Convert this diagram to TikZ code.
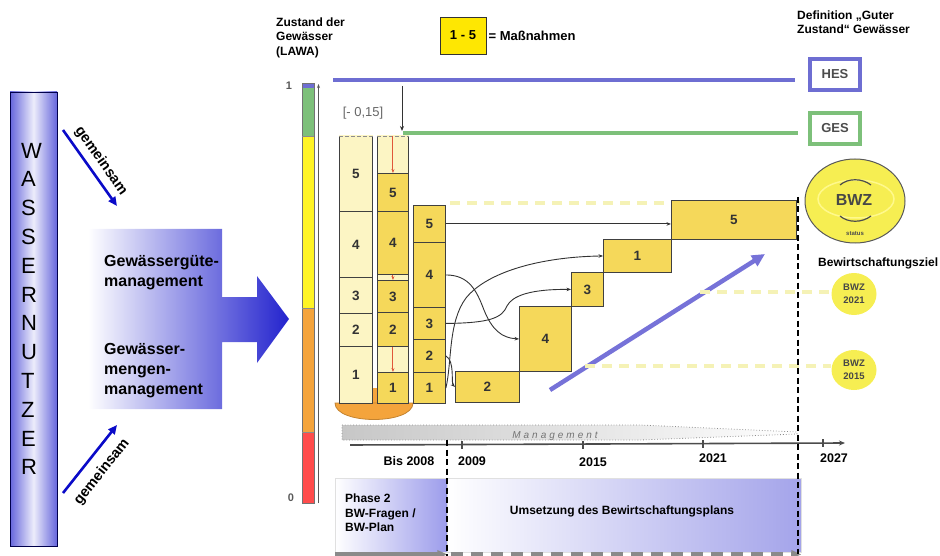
\documentclass[tikz,border=0pt]{standalone}
\usepackage{fontspec}
\setmainfont{Liberation Sans}
\usetikzlibrary{arrows.meta,shapes.geometric}
\newcommand\myfs[2]{\fontsize{#1}{#2}\selectfont}
\definecolor{ydark}{HTML}{F5D85A}
\definecolor{ypale}{HTML}{FCF5C4}
\definecolor{txt}{HTML}{333333}
\definecolor{hescol}{HTML}{6E6ED2}
\definecolor{gescol}{HTML}{7DC07A}
\definecolor{wblue}{HTML}{6666DC}
\definecolor{darrow}{HTML}{0A0AC8}
\definecolor{purp}{HTML}{7672D8}
\definecolor{ydash}{HTML}{F5F2B6}
\definecolor{bwz}{HTML}{F6EE52}
\definecolor{oran}{HTML}{F4A43C}
\definecolor{redar}{HTML}{E0563A}
\definecolor{lav}{HTML}{A4A4EA}
\definecolor{grayar}{HTML}{8A8A8A}
\tikzset{
  lbl/.style={font=\bfseries\myfs{12}{14.5}, text=black, inner sep=0pt},
  num/.style={font=\bfseries\myfs{13.5}{15}, text=txt},
  blkdark/.style={draw=black!75, line width=0.9pt, fill=ydark, inner sep=0pt, anchor=north west, num},
  blkpale/.style={draw=black!75, line width=0.9pt, fill=ypale, inner sep=0pt, anchor=north west, num},
  conn/.style={draw=black!80, line width=0.9pt, -{Stealth[length=4.5pt,width=3.5pt]}},
  redarrow/.style={draw=redar, line width=1pt, -{Stealth[length=4pt,width=3pt]}},
  ydashed/.style={draw=ydash, line width=3.5pt, dash pattern=on 10pt off 7pt},
  vdash/.style={draw=black, line width=1.3pt, dash pattern=on 6pt off 3.5pt},
  gemarrow/.style={draw=darrow, line width=2.6pt, -{Triangle[length=9pt,width=8pt]}},
  gemtext/.style={font=\bfseries\myfs{14.5}{16}, inner sep=0pt},
  yearlbl/.style={font=\bfseries\myfs{12.5}{14}, text=black, inner sep=0pt},
}
\begin{document}
\begin{tikzpicture}[x=1pt,y=-1pt]
\useasboundingbox (0,0) rectangle (940,556);

% ---------- WASSERNUTZER ----------
\node[draw=black!70!blue, line width=0.8pt, left color=wblue, right color=wblue, middle color=white!88!wblue,
      minimum width=47pt, minimum height=454pt, inner sep=0pt] (wn) at (33.5,319) {};
\node[anchor=west, align=left, inner sep=0pt, font=\myfs{22}{28.8}] (wntext) at (21,309)
  {W\\A\\S\\S\\E\\R\\N\\U\\T\\Z\\E\\R};

% gemeinsam arrows
\coordinate (g1s) at (63,130);
\coordinate (g1e) at (117,206);
\draw[gemarrow] (g1s) -- (g1e);
\node[gemtext, rotate=-54.6] (gem1) at (101,161) {gemeinsam};
\coordinate (g2s) at (63,493);
\coordinate (g2e) at (117,425);
\draw[gemarrow] (g2s) -- (g2e);
\node[gemtext, rotate=51.5] (gem2) at (102,472) {gemeinsam};

% ---------- big gradient arrow ----------
\path[left color=white, middle color=white!80!blue, right color=darrow!90!white]
  (88,229) -- (222,229) -- (222,297) -- (257,297) -- (257,276) -- (289,319)
  -- (257,363) -- (257,342) -- (222,342) -- (222,409) -- (88,409) -- cycle;
\node[lbl, font=\bfseries\myfs{16}{20}, anchor=west, align=left] (gm1) at (104,273)
  {Gewässergüte-\\management};
\node[lbl, font=\bfseries\myfs{16}{20}, anchor=west, align=left] (gm2) at (104,371)
  {Gewässer-\\mengen-\\management};

% ---------- LAWA scale ----------
\node[lbl, anchor=west, align=left, font=\bfseries\myfs{12}{14.5}] (lawa) at (276,37.5)
  {Zustand der\\Gewässer\\(LAWA)};
\fill[hescol] (302,83) rectangle (314,88);
\fill[gescol] (302,88) rectangle (314,136);
\fill[yellow!85!white] (302,136) rectangle (314,308);
\fill[oran] (302,308) rectangle (314,432);
\fill[red!70!white] (302,432) rectangle (314,503);
\draw[black!55, line width=0.6pt] (302,83) rectangle (314,503);
\draw[black!45, line width=0.4pt] (302,136) -- (314,136) (302,308) -- (314,308) (302,432) -- (314,432);
\coordinate (sc0) at (318.5,503);
\coordinate (sc1) at (318.5,84);
\draw[black!65, line width=0.8pt, -{Stealth[length=4pt,width=3pt]}] (sc0) -- (sc1);
\node[font=\bfseries\myfs{11}{12}, text=black!65] (one) at (289,86) {1};
\node[font=\bfseries\myfs{11}{12}, text=black!65] (zero) at (291,498) {0};

% ---------- legend ----------
\node[draw=black!80, line width=0.8pt, fill=yellow!90!orange, minimum width=46pt, minimum height=37pt,
      font=\bfseries\myfs{13}{15}] (leg) at (463,35.5) {1 - 5};
\node[anchor=west, font=\bfseries\myfs{13}{15}, inner sep=2pt] (legt) at (leg.east) {= Maßnahmen};

% ---------- definitions ----------
\node[lbl, anchor=west, align=left, font=\bfseries\myfs{12}{14}] (defn) at (797,22)
  {Definition „Guter\\Zustand“ Gewässer};
\node[draw=hescol, line width=4pt, minimum width=50pt, minimum height=31pt, inner sep=0pt,
      font=\bfseries\myfs{13}{15}, text=black!70] (hesbox) at (835,74.5) {HES};
\node[draw=gescol, line width=4pt, minimum width=50pt, minimum height=31pt, inner sep=0pt,
      font=\bfseries\myfs{13}{15}, text=black!70] (gesbox) at (835,128.5) {GES};
\coordinate (hesl) at (333,80);
\coordinate (gesl) at (403,133);
\draw[hescol, line width=4pt, shorten >=13pt] (hesl) -- (hesbox.west |- hesl);
\draw[gescol, line width=3.5pt, shorten >=10pt] (gesl) -- (gesbox.west |- gesl);
\coordinate (dA) at (402,86);
\coordinate (dB) at (402,131);
\draw[black!80, line width=0.9pt, -{Stealth[length=5pt,width=4pt]}] (dA) -- (dB);
\node[font=\myfs{13}{15}, text=black!60] (dlt) at (363,113) {[- 0,15]};

% ---------- yellow dashed target lines ----------
\coordinate (yd1a) at (450,203);
\coordinate (yd2a) at (700,292);
\coordinate (yd3a) at (585,366);

% ---------- purple diagonal arrow ----------
\coordinate (pa) at (550,390);
\coordinate (pb) at (765,254);
\draw[purp, line width=4.5pt, -{Triangle[length=13pt,width=12pt]}] (pa) -- (pb);

% ---------- BWZ circles ----------
\node[ellipse, draw=black!65, line width=1pt, fill=bwz, minimum width=100pt, minimum height=84pt, inner sep=0pt] (bwzbig) at (855,201) {};
\node[ellipse, draw=yellow!45!white, line width=1.5pt, minimum width=76pt, minimum height=38pt, inner sep=0pt] (bwzin) at (856,199) {};
\node[font=\bfseries\myfs{16}{18}, text=black!72] (bwzt) at (854,200) {BWZ};
\draw[black!70, line width=1.2pt] (840,185) .. controls (848,178) and (862,178) .. (871,185);
\draw[black!70, line width=1.2pt] (840,216) .. controls (848,223) and (862,223) .. (871,216);
\node[font=\bfseries\myfs{6}{7}, text=black!70] (status) at (855,234) {status};
\node[anchor=west, font=\bfseries\myfs{12}{14}, inner sep=0pt] (bwziel) at (818,263) {Bewirtschaftungsziel};
\node[ellipse, fill=bwz, minimum width=45pt, minimum height=42pt, inner sep=0pt, align=center,
      font=\bfseries\myfs{9.5}{13}, text=black!72] (bwz21) at (854,294) {BWZ\\2021};
\node[ellipse, fill=bwz, minimum width=45pt, minimum height=40pt, inner sep=0pt, align=center,
      font=\bfseries\myfs{9.5}{13}, text=black!72] (bwz15) at (854,370) {BWZ\\2015};

\draw[ydashed] (yd1a) -- (bwzbig.west |- yd1a);
\draw[ydashed] (yd2a) -- (bwz21.west |- yd2a);
\draw[ydashed] (yd3a) -- (bwz15.west |- yd3a);

% ---------- base (half ellipse) ----------
\fill[oran] (372,388) rectangle (377,403);
\path[fill=oran, draw=oran!80!black, line width=0.8pt]
  (335,403) .. controls (335,425) and (413,425) .. (413,403) -- cycle;

% ---------- column 1 ----------
\node[blkpale, minimum width=33pt, minimum height=75pt] (c1b5) at (339,136) {5};
\node[blkpale, minimum width=33pt, minimum height=66pt] (c1b4) at (339,211) {4};
\node[blkpale, minimum width=33pt, minimum height=36pt] (c1b3) at (339,277) {3};
\node[blkpale, minimum width=33pt, minimum height=33pt] (c1b2) at (339,313) {2};
\node[blkpale, minimum width=33pt, minimum height=57pt] (c1b1) at (339,346) {1};
\draw[ypale, line width=1.4pt] (c1b5.north west) -- (c1b5.north east);
\draw[black!45, line width=0.9pt, dash pattern=on 4pt off 2pt] (c1b5.north west) -- (c1b5.north east);

% ---------- column 2 ----------
\node[blkpale, minimum width=31pt, minimum height=267pt] (c2f) at (377,136) {};
\draw[ypale, line width=1.4pt] (c2f.north west) -- (c2f.north east);
\draw[black!45, line width=0.9pt, dash pattern=on 4pt off 2pt] (c2f.north west) -- (c2f.north east);
\node[blkdark, minimum width=31pt, minimum height=38pt] (c2b5) at (377,173) {5};
\node[blkdark, minimum width=31pt, minimum height=63pt] (c2b4) at (377,211) {4};
\node[blkdark, minimum width=31pt, minimum height=32pt] (c2b3) at (377,280) {3};
\node[blkdark, minimum width=31pt, minimum height=34pt] (c2b2) at (377,312) {2};
\node[blkdark, minimum width=31pt, minimum height=31pt] (c2b1) at (377,372) {1};
\draw[redarrow] (c2f.north) -- (c2b5.north);
\draw[redarrow] (c2b4.south) -- (c2b3.north);
\draw[redarrow] (c2b2.south) -- (c2b1.north);

% ---------- column 3 ----------
\node[blkdark, minimum width=32pt, minimum height=37pt] (c3b5) at (413,205) {5};
\node[blkdark, minimum width=32pt, minimum height=65pt] (c3b4) at (413,242) {4};
\node[blkdark, minimum width=32pt, minimum height=32pt] (c3b3) at (413,307) {3};
\node[blkdark, minimum width=32pt, minimum height=33pt] (c3b2) at (413,339) {2};
\node[blkdark, minimum width=32pt, minimum height=31pt] (c3b1) at (413,372) {1};

% ---------- stairs ----------
\node[blkdark, minimum width=64pt, minimum height=31pt] (s2) at (455,371) {2};
\node[blkdark, minimum width=52pt, minimum height=65pt] (s4) at (519,306) {4};
\node[blkdark, minimum width=32pt, minimum height=34pt] (s3) at (571,272) {3};
\node[blkdark, minimum width=68pt, minimum height=33pt] (s1) at (603,239) {1};
\node[blkdark, minimum width=125pt, minimum height=39pt] (s5) at (671,200) {5};

% ---------- connectors ----------
\draw[conn] (c3b5.east) -- (s5.west |- c3b5.east);
\draw[conn] (c3b4.east) .. controls (470,275) and (477,292) .. (484,310)
            .. controls (492,330) and (502,338) .. (s4.west);
\draw[conn] (c3b3.east) .. controls (490,323) and (502,318) .. (507,306)
            .. controls (512,296) and (530,289) .. (s3.west);
\draw[conn] (c3b1.east) .. controls (452,362) and (448,322) .. (466,298)
            .. controls (487,272) and (540,257) .. (s1.west);
\draw[conn] (c3b2.east) .. controls (455,361) and (451,383) .. (s2.west);

% ---------- vertical dashed lines ----------
\coordinate (v1a) at (447,440);
\coordinate (v1b) at (447,556);
\coordinate (v2a) at (798,197);
\coordinate (v2b) at (798,554);

% ---------- management wedge ----------
\path[draw=black!45, dotted, line width=0.8pt, left color=black!22, right color=white]
  (342,425) -- (640,425) -- (797,432) -- (797,434) -- (640,440) -- (342,440) -- cycle;
\node[font=\myfs{10}{12}\itshape, text=black!55] (mgmt) at (555,436)
  {M\hspace{3pt}a\hspace{3pt}n\hspace{3pt}a\hspace{3pt}g\hspace{3pt}e\hspace{3pt}m\hspace{3pt}e\hspace{3pt}n\hspace{3pt}t};

% ---------- timeline ----------
\coordinate (t0) at (350,445);
\coordinate (t1) at (845,443);
\draw[black!70, line width=1.6pt, -{Stealth[length=6pt,width=5pt]}] (t0) -- (t1);
\foreach \xx/\yy in {462/445, 583/444.5, 703/444, 823/443.2}
  \draw[black!70, line width=1.2pt] (\xx,\yy-4) -- (\xx,\yy+4);
\node[yearlbl] (y08) at (409,461) {Bis 2008};
\node[yearlbl] (y09) at (472,461) {2009};
\node[yearlbl] (y15) at (593,462) {2015};
\node[yearlbl] (y21) at (713,458) {2021};
\node[yearlbl] (y27) at (834,458) {2027};

% ---------- bottom boxes ----------
\node[draw=black!12, left color=white, right color=lav!95!blue, minimum width=112pt, minimum height=74pt,
      inner sep=0pt, anchor=north west] (phase) at (335,478) {};
\node[lbl, anchor=west, align=left, font=\bfseries\myfs{12}{14.5}] (phaset) at (345,513)
  {Phase 2\\BW-Fragen /\\BW-Plan};
\node[draw=black!12, left color=white, right color=lav, minimum width=354pt, minimum height=74pt,
      inner sep=0pt, anchor=north west] (ums) at (447,478) {};
\node[lbl, font=\bfseries\myfs{12}{14}] (umst) at (622,511) {Umsetzung des Bewirtschaftungsplans};
\draw[grayar, line width=4pt, -{Triangle[length=10pt,width=8pt]}] ([yshift=-2pt]phase.south west) -- ([yshift=-2pt]phase.south east);
\draw[grayar, line width=4pt, dash pattern=on 12pt off 8pt, -{Triangle[length=10pt,width=8pt]}] ([xshift=4pt,yshift=-2pt]ums.south west) -- ([yshift=-2pt]ums.south east);

\draw[vdash] (v1a) -- (v1b);
\draw[vdash] (v2a) -- (v2b);
\end{tikzpicture}
\end{document}
